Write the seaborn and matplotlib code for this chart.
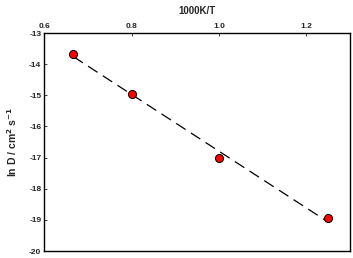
import numpy as np
import pandas as pd
import matplotlib
matplotlib.use('Agg')
import matplotlib.pyplot as plt
import seaborn as sns

# data
inv_T = [0.667, 0.800, 1.000, 1.250]
ln_D = [-13.68, -14.95, -17.02, -18.95]
x_ticks = [0.6, 0.8, 1.0, 1.2]
y_ticks = [-13, -14, -15, -16, -17, -18, -19, -20]

df = pd.DataFrame({'invT': inv_T, 'lnD': ln_D})

# linear fit for the dashed line
slope, icpt = np.polyfit(df['invT'], df['lnD'], 1)
fit = pd.DataFrame({'invT': [min(inv_T), max(inv_T)]})
fit['lnD'] = slope * fit['invT'] + icpt

sns.set_style('white')
plt.rcParams['font.family'] = ['Liberation Sans', 'DejaVu Sans']
plt.rcParams['font.weight'] = 'bold'
plt.rcParams['mathtext.default'] = 'bf'

fig, ax = plt.subplots(figsize=(3.53, 2.58), dpi=100)
fig.subplots_adjust(left=0.125, right=0.992, top=0.872, bottom=0.027)

sns.lineplot(data=fit, x='invT', y='lnD', ax=ax, color='black', lw=0.9,
             dashes=False, linestyle=(0, (9, 5)))
sns.scatterplot(data=df, x='invT', y='lnD', ax=ax, color='red', s=34,
                edgecolor='black', linewidth=0.7, zorder=3)

ax.set_xlim(0.6, 1.3)
ax.set_ylim(-20, -13)
ax.set_xticks(x_ticks)
ax.set_xticklabels([f'{t:.1f}' for t in x_ticks])
ax.set_yticks(y_ticks)
ax.set_yticklabels([str(t) for t in y_ticks])
ax.xaxis.tick_top()
ax.xaxis.set_label_position('top')
ax.tick_params(axis='both', direction='in', length=2, width=0.6,
               labelsize=6, pad=2, top=True, left=True)
ax.set_xlabel('1000K/T', fontsize=7, fontweight='bold', labelpad=7)
ax.set_ylabel('ln D / cm$^2$ s$^{-1}$', fontsize=7.5, fontweight='bold', labelpad=7)
for s in ax.spines.values():
    s.set_linewidth(1.0)
    s.set_color('black')

plt.savefig('out.png', dpi=100)
